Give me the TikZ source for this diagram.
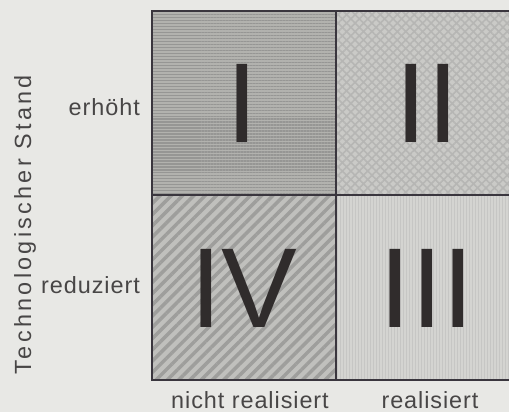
\documentclass[tikz,border=0pt]{standalone}
\usepackage{fontspec}
\setmainfont{Liberation Sans}
\newfontfamily\axisfont[LetterSpace=4]{Liberation Sans}
\newfontfamily\titlefont[LetterSpace=14]{Liberation Sans}
\usetikzlibrary{patterns.meta}

\definecolor{paper}{RGB}{232,232,229}
\definecolor{frame}{RGB}{58,54,62}
\definecolor{ink}{RGB}{48,44,44}
\definecolor{labelink}{RGB}{72,70,70}
\definecolor{fillI}{RGB}{178,178,174}
\definecolor{lineI}{RGB}{150,150,148}
\definecolor{fillII}{RGB}{202,202,199}
\definecolor{lineII}{RGB}{182,182,180}
\definecolor{fillIII}{RGB}{212,212,209}
\definecolor{lineIII}{RGB}{198,198,196}
\definecolor{fillIV}{RGB}{192,192,189}
\definecolor{lineIV}{RGB}{158,158,156}

\tikzset{
  numeral/.style={inner sep=0pt, text=ink, font=\fontsize{114}{114}\selectfont},
  axislabel/.style={inner sep=0pt, text=labelink, font=\axisfont\fontsize{23.5}{26}\selectfont},
}

\begin{document}
\begin{tikzpicture}[x=1bp,y=1bp]

  \clip (0,0) rectangle (509,412);
  \fill[paper] (0,0) rectangle (509,412);

  % Corners of the grid
  \coordinate (sw) at (152,32);
  \coordinate (ne) at (520,401);
  \coordinate (c)  at (336,217);

  % Quadrants
  \fill[fillI] (sw |- c) rectangle (c |- ne);
  \fill[pattern={Lines[angle=0,distance=3pt,line width=1.2pt]}, pattern color=lineI]
    (sw |- c) rectangle (c |- ne);
  \fill[fillII] (c) rectangle (ne);
  \fill[pattern={Hatch[angle=45,distance=6pt,line width=1.6pt]}, pattern color=lineII]
    (c) rectangle (ne);
  \fill[fillIII] (c |- sw) rectangle (c -| ne);
  \fill[pattern={Lines[angle=90,distance=3pt,line width=1pt]}, pattern color=lineIII]
    (c |- sw) rectangle (c -| ne);
  \fill[fillIV] (sw) rectangle (c);
  \fill[pattern={Lines[angle=45,distance=8pt,line width=3.5pt]}, pattern color=lineIV]
    (sw) rectangle (c);

  % Frame
  \draw[frame, line width=1.8bp] (c |- sw) -- (c |- ne);
  \draw[frame, line width=1.8bp] (sw |- c) -- (ne |- c);
  \draw[frame, line width=2.6bp] (sw) rectangle (ne);

  % Numerals
  \node[numeral] (q1) at (242,309) {I};
  \node[numeral] (q2) at (427,309) {II};
  \node[numeral] (q3) at (427,124) {III};
  \node[numeral] (q4) at (244,124) {IV};

  % Labels
  \node[axislabel, anchor=base east] (hi) at (140,297) {erhöht};
  \node[axislabel, anchor=base east] (lo) at (140,119) {reduziert};
  \node[axislabel, anchor=base] (no)  at (250,4) {nicht realisiert};
  \node[axislabel, anchor=base] (yes) at (430,4) {realisiert};
  \node[axislabel, anchor=base, rotate=90, font=\titlefont\fontsize{23.5}{26}\selectfont]
    (stand) at (31,187.5) {Technologischer Stand};

\end{tikzpicture}
\end{document}
